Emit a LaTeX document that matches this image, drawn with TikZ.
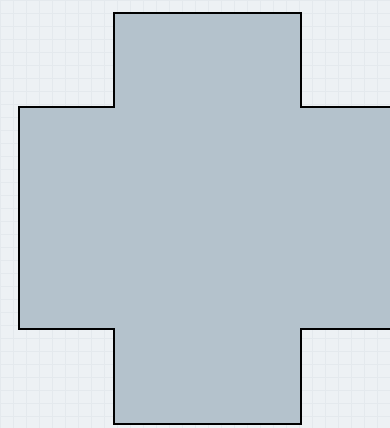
\documentclass[tikz,border=0pt]{standalone}
\definecolor{paper}{RGB}{237,241,244}
\definecolor{gridln}{RGB}{228,233,237}
\definecolor{crossfill}{RGB}{180,194,204}
\tikzset{crossshape/.style={fill=crossfill,draw=black,line width=2.2pt,line join=miter}}
\begin{document}
\begin{tikzpicture}[x=1pt,y=-1pt]
\useasboundingbox (0,0) rectangle (390,428);
\clip (0,0) rectangle (390,428);
\fill[paper] (0,0) rectangle (390,428);
\foreach \g in {0,13,...,390} \draw[gridln,line width=0.8pt] (\g,0) -- (\g,428);
\foreach \g in {0,13,...,428} \draw[gridln,line width=0.8pt] (0,\g) -- (390,\g);
\draw[crossshape] (114,13) -- (301,13) -- (301,107) -- (396,107) -- (396,329) -- (301,329) -- (301,424) -- (114,424) -- (114,329) -- (19,329) -- (19,107) -- (114,107) -- cycle;
\end{tikzpicture}
\end{document}
